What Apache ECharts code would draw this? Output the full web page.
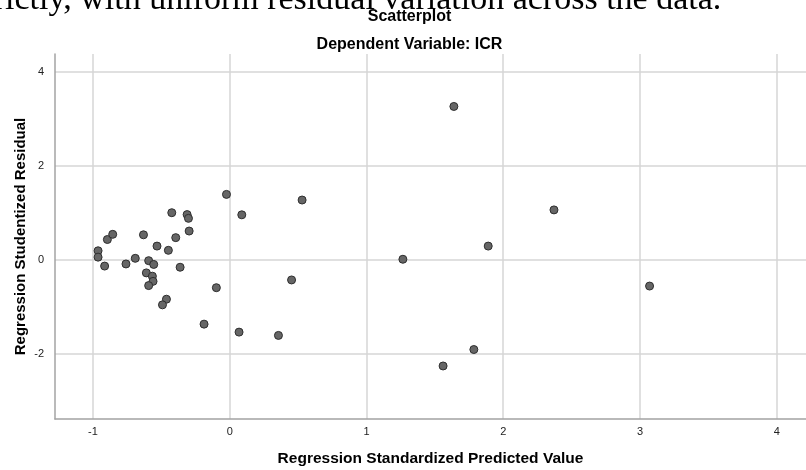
<!DOCTYPE html>
<html>
<head>
<meta charset="utf-8">
<script src="https://cdn.jsdelivr.net/npm/echarts@6/dist/echarts.min.js"></script>
<style>
  html, body { margin: 0; padding: 0; background: #fff; }
  #chart { width: 806px; height: 470px; }
</style>
</head>
<body>
<div id="chart"></div>
<script>
// Regression Standardized Predicted Value (x) and Studentized Residual (y)
const predicted = [
  -0.963, -0.963, -0.915, -0.895, -0.856, -0.759, -0.691, -0.631, -0.593, -0.556,
  -0.610, -0.566, -0.561, -0.593, -0.532, -0.449, -0.424, -0.395, -0.363, -0.312,
  -0.302, -0.297, -0.463, -0.492, -0.188, -0.098, -0.024, 0.068, 0.088, 0.356,
  0.452, 0.529, 1.266, 1.560, 1.639, 1.785, 1.890, 2.371, 3.070
];
const residual = [
  0.19, 0.055, -0.135, 0.43, 0.54, -0.09, 0.03, 0.53, -0.02, -0.10,
  -0.28, -0.35, -0.46, -0.55, 0.29, 0.20, 1.00, 0.47, -0.16, 0.96,
  0.88, 0.61, -0.84, -0.96, -1.37, -0.595, 1.39, -1.54, 0.955, -1.61,
  -0.43, 1.27, 0.01, -2.26, 3.26, -1.91, 0.29, 1.06, -0.56
];
const xTicks = [-1, 0, 1, 2, 3, 4];
const yTicks = [-2, 0, 2, 4];

const points = predicted.map((x, i) => [x, residual[i]]);

const chart = echarts.init(document.getElementById('chart'));

const gridLine = { show: true, lineStyle: { color: '#d6d6d6', width: 1.5 } };
const axisLine = { show: true, onZero: false, lineStyle: { color: '#a3a3a3', width: 1.5 } };

const option = {
  backgroundColor: '#fff',
  animation: false,
  graphic: [
    {
      // tail of the document sentence above the figure, cut by the crop
      type: 'text', x: -29, y: 0.5,
      style: {
        text: 'strictly, with uniform residual variation across the data.',
        font: '34px "Liberation Serif", serif', fill: '#000', verticalAlign: 'middle'
      }
    },
    {
      type: 'text', x: 409.5, y: 16.5,
      style: {
        text: 'Scatterplot', font: 'bold 16px "Liberation Sans", Arial, sans-serif',
        fill: '#000', align: 'center', verticalAlign: 'middle'
      }
    },
    {
      type: 'text', x: 409.5, y: 44.5,
      style: {
        text: 'Dependent Variable: ICR', font: 'bold 16px "Liberation Sans", Arial, sans-serif',
        fill: '#000', align: 'center', verticalAlign: 'middle'
      }
    }
  ],
  grid: { left: 55, right: 0, top: 54, bottom: 51, outerBoundsMode: 'none' },
  xAxis: {
    type: 'value',
    min: -1.278,
    max: 4.214,
    name: 'Regression Standardized Predicted Value',
    nameLocation: 'middle',
    nameGap: 32,
    nameMoveOverlap: false,
    nameTextStyle: { fontFamily: 'Liberation Sans', fontWeight: 'bold', fontSize: 15.5, color: '#000' },
    axisLine: axisLine,
    axisTick: { show: false, customValues: xTicks },
    axisLabel: {
      customValues: xTicks, margin: 7,
      fontFamily: 'Liberation Sans', fontSize: 11, color: '#222'
    },
    splitLine: gridLine
  },
  yAxis: {
    type: 'value',
    min: -3.388,
    max: 4.376,
    name: 'Regression Studentized Residual',
    nameLocation: 'middle',
    nameGap: 27,
    nameMoveOverlap: false,
    nameTextStyle: { fontFamily: 'Liberation Sans', fontWeight: 'bold', fontSize: 15, color: '#000' },
    axisLine: axisLine,
    axisTick: { show: false, customValues: yTicks },
    axisLabel: {
      customValues: yTicks, margin: 11,
      fontFamily: 'Liberation Sans', fontSize: 11, color: '#222'
    },
    splitLine: gridLine
  },
  series: [
    {
      type: 'scatter',
      data: points,
      symbol: 'circle',
      symbolSize: 8,
      itemStyle: { color: '#666666', borderColor: '#2e2e2e', borderWidth: 1, opacity: 1 }
    }
  ]
};

chart.setOption(option);
</script>
</body>
</html>
